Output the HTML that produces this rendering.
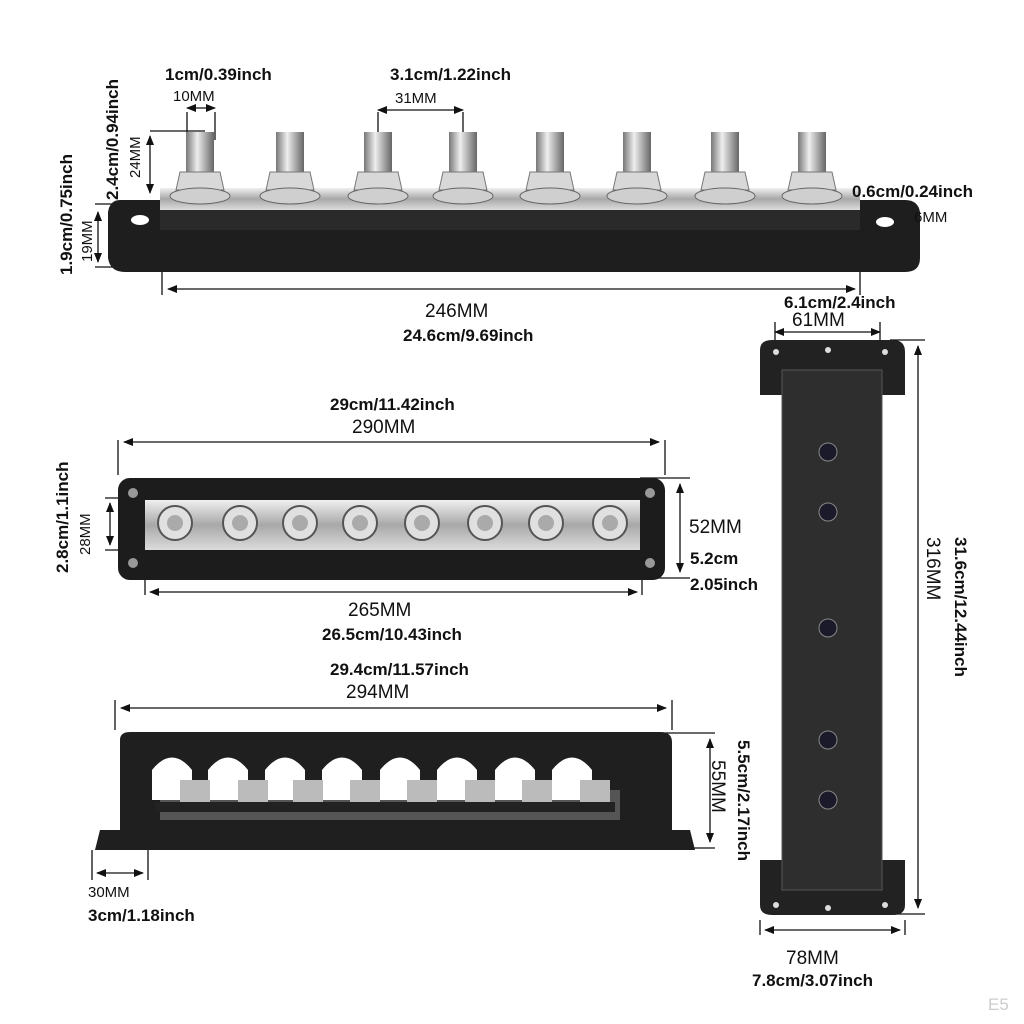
<!DOCTYPE html>
<html><head><meta charset="utf-8"><style>
html,body{margin:0;padding:0;background:#fff;}
svg{display:block;}
text{font-family:"Liberation Sans",sans-serif;fill:#111;}
.b{font-weight:bold;font-size:17px;}
.r{font-size:19px;}
.s{font-size:15px;}
</style></head><body>
<svg width="1024" height="1024" viewBox="0 0 1024 1024" xmlns="http://www.w3.org/2000/svg">
<defs>
<marker id="a" markerWidth="10" markerHeight="8" refX="9" refY="4" orient="auto-start-reverse" markerUnits="userSpaceOnUse"><path d="M0,0 L10,4 L0,8 Z" fill="#111"/></marker>
<linearGradient id="sv" x1="0" y1="0" x2="0" y2="1"><stop offset="0" stop-color="#f0f0f0"/><stop offset="0.5" stop-color="#a8a8a8"/><stop offset="1" stop-color="#dcdcdc"/></linearGradient>
<linearGradient id="st" x1="0" y1="0" x2="1" y2="0"><stop offset="0" stop-color="#777"/><stop offset="0.4" stop-color="#eee"/><stop offset="1" stop-color="#666"/></linearGradient>
</defs>
<g stroke="#111" stroke-width="1.3" fill="none">
<!-- top view dims -->
<line x1="187" y1="108" x2="215" y2="108" marker-start="url(#a)" marker-end="url(#a)"/>
<line x1="187" y1="112" x2="187" y2="140"/><line x1="215" y1="112" x2="215" y2="140"/>
<line x1="378" y1="110" x2="463" y2="110" marker-start="url(#a)" marker-end="url(#a)"/>
<line x1="378" y1="112" x2="378" y2="135"/><line x1="463" y1="112" x2="463" y2="135"/>
<line x1="150" y1="131" x2="205" y2="131"/>
<line x1="150" y1="136" x2="150" y2="193" marker-start="url(#a)" marker-end="url(#a)"/>
<line x1="95" y1="204" x2="170" y2="204"/>
<line x1="98" y1="212" x2="98" y2="262" marker-start="url(#a)" marker-end="url(#a)"/>
<line x1="95" y1="267" x2="130" y2="267"/>
<line x1="162" y1="210" x2="162" y2="295"/>
<line x1="168" y1="289" x2="855" y2="289" marker-start="url(#a)" marker-end="url(#a)"/>
<line x1="860" y1="210" x2="860" y2="295"/>
<line x1="905" y1="205" x2="905" y2="225"/>
<!-- right dims -->
<line x1="775" y1="332" x2="880" y2="332" marker-start="url(#a)" marker-end="url(#a)"/>
<line x1="775" y1="322" x2="775" y2="348"/><line x1="880" y1="322" x2="880" y2="348"/>
<line x1="890" y1="340" x2="925" y2="340"/>
<line x1="918" y1="346" x2="918" y2="908" marker-start="url(#a)" marker-end="url(#a)"/>
<line x1="890" y1="914" x2="925" y2="914"/>
<line x1="760" y1="920" x2="760" y2="935"/><line x1="905" y1="920" x2="905" y2="935"/>
<line x1="765" y1="930" x2="900" y2="930" marker-start="url(#a)" marker-end="url(#a)"/>
<!-- middle dims -->
<line x1="118" y1="440" x2="118" y2="475"/><line x1="665" y1="440" x2="665" y2="475"/>
<line x1="124" y1="442" x2="659" y2="442" marker-start="url(#a)" marker-end="url(#a)"/>
<line x1="640" y1="478" x2="690" y2="478"/><line x1="640" y1="578" x2="690" y2="578"/>
<line x1="680" y1="484" x2="680" y2="572" marker-start="url(#a)" marker-end="url(#a)"/>
<line x1="105" y1="498" x2="150" y2="498"/><line x1="105" y1="550" x2="150" y2="550"/>
<line x1="110" y1="503" x2="110" y2="545" marker-start="url(#a)" marker-end="url(#a)"/>
<line x1="145" y1="555" x2="145" y2="595"/><line x1="642" y1="555" x2="642" y2="595"/>
<line x1="150" y1="592" x2="637" y2="592" marker-start="url(#a)" marker-end="url(#a)"/>
<!-- bottom dims -->
<line x1="115" y1="700" x2="115" y2="730"/><line x1="672" y1="700" x2="672" y2="730"/>
<line x1="121" y1="708" x2="666" y2="708" marker-start="url(#a)" marker-end="url(#a)"/>
<line x1="640" y1="733" x2="715" y2="733"/><line x1="690" y1="848" x2="715" y2="848"/>
<line x1="710" y1="739" x2="710" y2="842" marker-start="url(#a)" marker-end="url(#a)"/>
<line x1="92" y1="850" x2="92" y2="880"/><line x1="148" y1="850" x2="148" y2="880"/>
<line x1="97" y1="873" x2="143" y2="873" marker-start="url(#a)" marker-end="url(#a)"/>
</g>

<!-- TOP VIEW product -->
<path d="M120,200 Q110,200 108,212 L108,258 Q110,272 125,272 L905,272 Q920,272 920,258 L920,212 Q918,200 905,200 Z" fill="#1e1e1e"/>
<rect x="160" y="200" width="700" height="30" fill="#2a2a2a"/>
<ellipse cx="140" cy="220" rx="9" ry="5" fill="#fff"/><ellipse cx="885" cy="222" rx="9" ry="5" fill="#fff"/>
<rect x="160" y="188" width="700" height="22" fill="url(#sv)"/>
<g id="stud">
<rect x="186" y="132" width="28" height="42" fill="url(#st)"/>
<polygon points="180,172 220,172 224,190 176,190" fill="#d8d8d8" stroke="#777"/>
<ellipse cx="200" cy="196" rx="30" ry="8" fill="#cfcfcf" stroke="#666"/>
</g>
<use href="#stud" x="90"/><use href="#stud" x="178"/><use href="#stud" x="263"/><use href="#stud" x="350"/><use href="#stud" x="437"/><use href="#stud" x="525"/><use href="#stud" x="612"/>

<!-- MIDDLE VIEW product -->
<rect x="118" y="478" width="547" height="102" rx="12" fill="#1c1c1c"/>
<rect x="145" y="500" width="495" height="50" fill="url(#sv)"/>
<circle cx="133" cy="493" r="5" fill="#999"/><circle cx="650" cy="493" r="5" fill="#999"/>
<circle cx="133" cy="563" r="5" fill="#999"/><circle cx="650" cy="563" r="5" fill="#999"/>
<g fill="#e0e0e0" stroke="#555" stroke-width="2">
<circle cx="175" cy="523" r="17"/><circle cx="240" cy="523" r="17"/><circle cx="300" cy="523" r="17"/><circle cx="360" cy="523" r="17"/><circle cx="422" cy="523" r="17"/><circle cx="485" cy="523" r="17"/><circle cx="546" cy="523" r="17"/><circle cx="610" cy="523" r="17"/>
</g>
<g fill="#aaa"><circle cx="175" cy="523" r="8"/><circle cx="240" cy="523" r="8"/><circle cx="300" cy="523" r="8"/><circle cx="360" cy="523" r="8"/><circle cx="422" cy="523" r="8"/><circle cx="485" cy="523" r="8"/><circle cx="546" cy="523" r="8"/><circle cx="610" cy="523" r="8"/></g>

<!-- BOTTOM VIEW product -->
<path d="M95,850 L100,830 L120,830 L120,740 Q120,732 130,732 L660,732 Q672,732 672,742 L672,830 L690,830 L695,850 Z" fill="#1f1f1f"/>
<rect x="160" y="790" width="460" height="30" fill="#555"/>
<g fill="#fff">
<path d="M152,800 L152,770 Q172,745 192,770 L192,800 Z"/><path d="M208,800 L208,770 Q228,745 248,770 L248,800 Z"/><path d="M265,800 L265,770 Q285,745 305,770 L305,800 Z"/><path d="M322,800 L322,770 Q342,745 362,770 L362,800 Z"/><path d="M380,800 L380,770 Q400,745 420,770 L420,800 Z"/><path d="M437,800 L437,770 Q457,745 477,770 L477,800 Z"/><path d="M495,800 L495,770 Q515,745 535,770 L535,800 Z"/><path d="M552,800 L552,770 Q572,745 592,770 L592,800 Z"/>
</g>
<g fill="#bbb"><rect x="180" y="780" width="30" height="22"/><rect x="238" y="780" width="30" height="22"/><rect x="293" y="780" width="30" height="22"/><rect x="350" y="780" width="30" height="22"/><rect x="407" y="780" width="30" height="22"/><rect x="465" y="780" width="30" height="22"/><rect x="522" y="780" width="30" height="22"/><rect x="580" y="780" width="30" height="22"/></g>
<rect x="155" y="802" width="460" height="10" fill="#222"/>

<!-- RIGHT VIEW product -->
<path d="M760,350 Q760,340 772,340 L893,340 Q905,340 905,352 L905,395 L880,395 L880,860 L905,860 L905,905 Q905,915 893,915 L772,915 Q760,915 760,905 L760,860 L785,860 L785,395 L760,395 Z" fill="#222"/>
<rect x="782" y="370" width="100" height="520" fill="#2e2e2e" stroke="#555"/>
<g fill="#1a1a2a" stroke="#888"><circle cx="828" cy="452" r="9"/><circle cx="828" cy="512" r="9"/><circle cx="828" cy="628" r="9"/><circle cx="828" cy="740" r="9"/><circle cx="828" cy="800" r="9"/></g>
<g fill="#ddd"><circle cx="776" cy="352" r="3"/><circle cx="828" cy="350" r="3"/><circle cx="885" cy="352" r="3"/><circle cx="776" cy="905" r="3"/><circle cx="828" cy="908" r="3"/><circle cx="885" cy="905" r="3"/></g>

<!-- TEXT -->
<text x="165" y="80" class="b">1cm/0.39inch</text>
<text x="173" y="101" class="s">10MM</text>
<text x="390" y="80" class="b">3.1cm/1.22inch</text>
<text x="395" y="103" class="s">31MM</text>
<text class="b" font-size="15" transform="translate(118,200) rotate(-90)">2.4cm/0.94inch</text>
<text class="s" transform="translate(140,178) rotate(-90)">24MM</text>
<text class="b" font-size="15" transform="translate(72,275) rotate(-90)">1.9cm/0.75inch</text>
<text class="s" transform="translate(92,262) rotate(-90)">19MM</text>
<text x="852" y="197" class="b">0.6cm/0.24inch</text>
<text x="914" y="222" class="s">6MM</text>
<text x="425" y="317" class="r">246MM</text>
<text x="403" y="341" class="b">24.6cm/9.69inch</text>
<text x="784" y="308" class="b" font-size="15">6.1cm/2.4inch</text>
<text x="792" y="326" class="r">61MM</text>
<text x="330" y="410" class="b">29cm/11.42inch</text>
<text x="352" y="433" class="r">290MM</text>
<text class="b" font-size="20" transform="translate(68,573) rotate(-90)">2.8cm/1.1inch</text>
<text class="s" transform="translate(90,555) rotate(-90)">28MM</text>
<text x="689" y="533" class="r">52MM</text>
<text x="690" y="564" class="b">5.2cm</text>
<text x="690" y="590" class="b">2.05inch</text>
<text x="348" y="616" class="r">265MM</text>
<text x="322" y="640" class="b">26.5cm/10.43inch</text>
<text x="330" y="675" class="b">29.4cm/11.57inch</text>
<text x="346" y="698" class="r">294MM</text>
<text class="b" transform="translate(738,740) rotate(90)">5.5cm/2.17inch</text>
<text class="r" transform="translate(712,760) rotate(90)">55MM</text>
<text x="88" y="897" class="s">30MM</text>
<text x="88" y="921" class="b">3cm/1.18inch</text>
<text class="b" font-size="19" transform="translate(955,537) rotate(90)">31.6cm/12.44inch</text>
<text class="r" transform="translate(927,537) rotate(90)">316MM</text>
<text x="786" y="964" class="r">78MM</text>
<text x="752" y="986" class="b">7.8cm/3.07inch</text>
<text x="988" y="1010" font-size="17" fill="#ccc" style="fill:#ccc">E5</text>
</svg>
</body></html>
